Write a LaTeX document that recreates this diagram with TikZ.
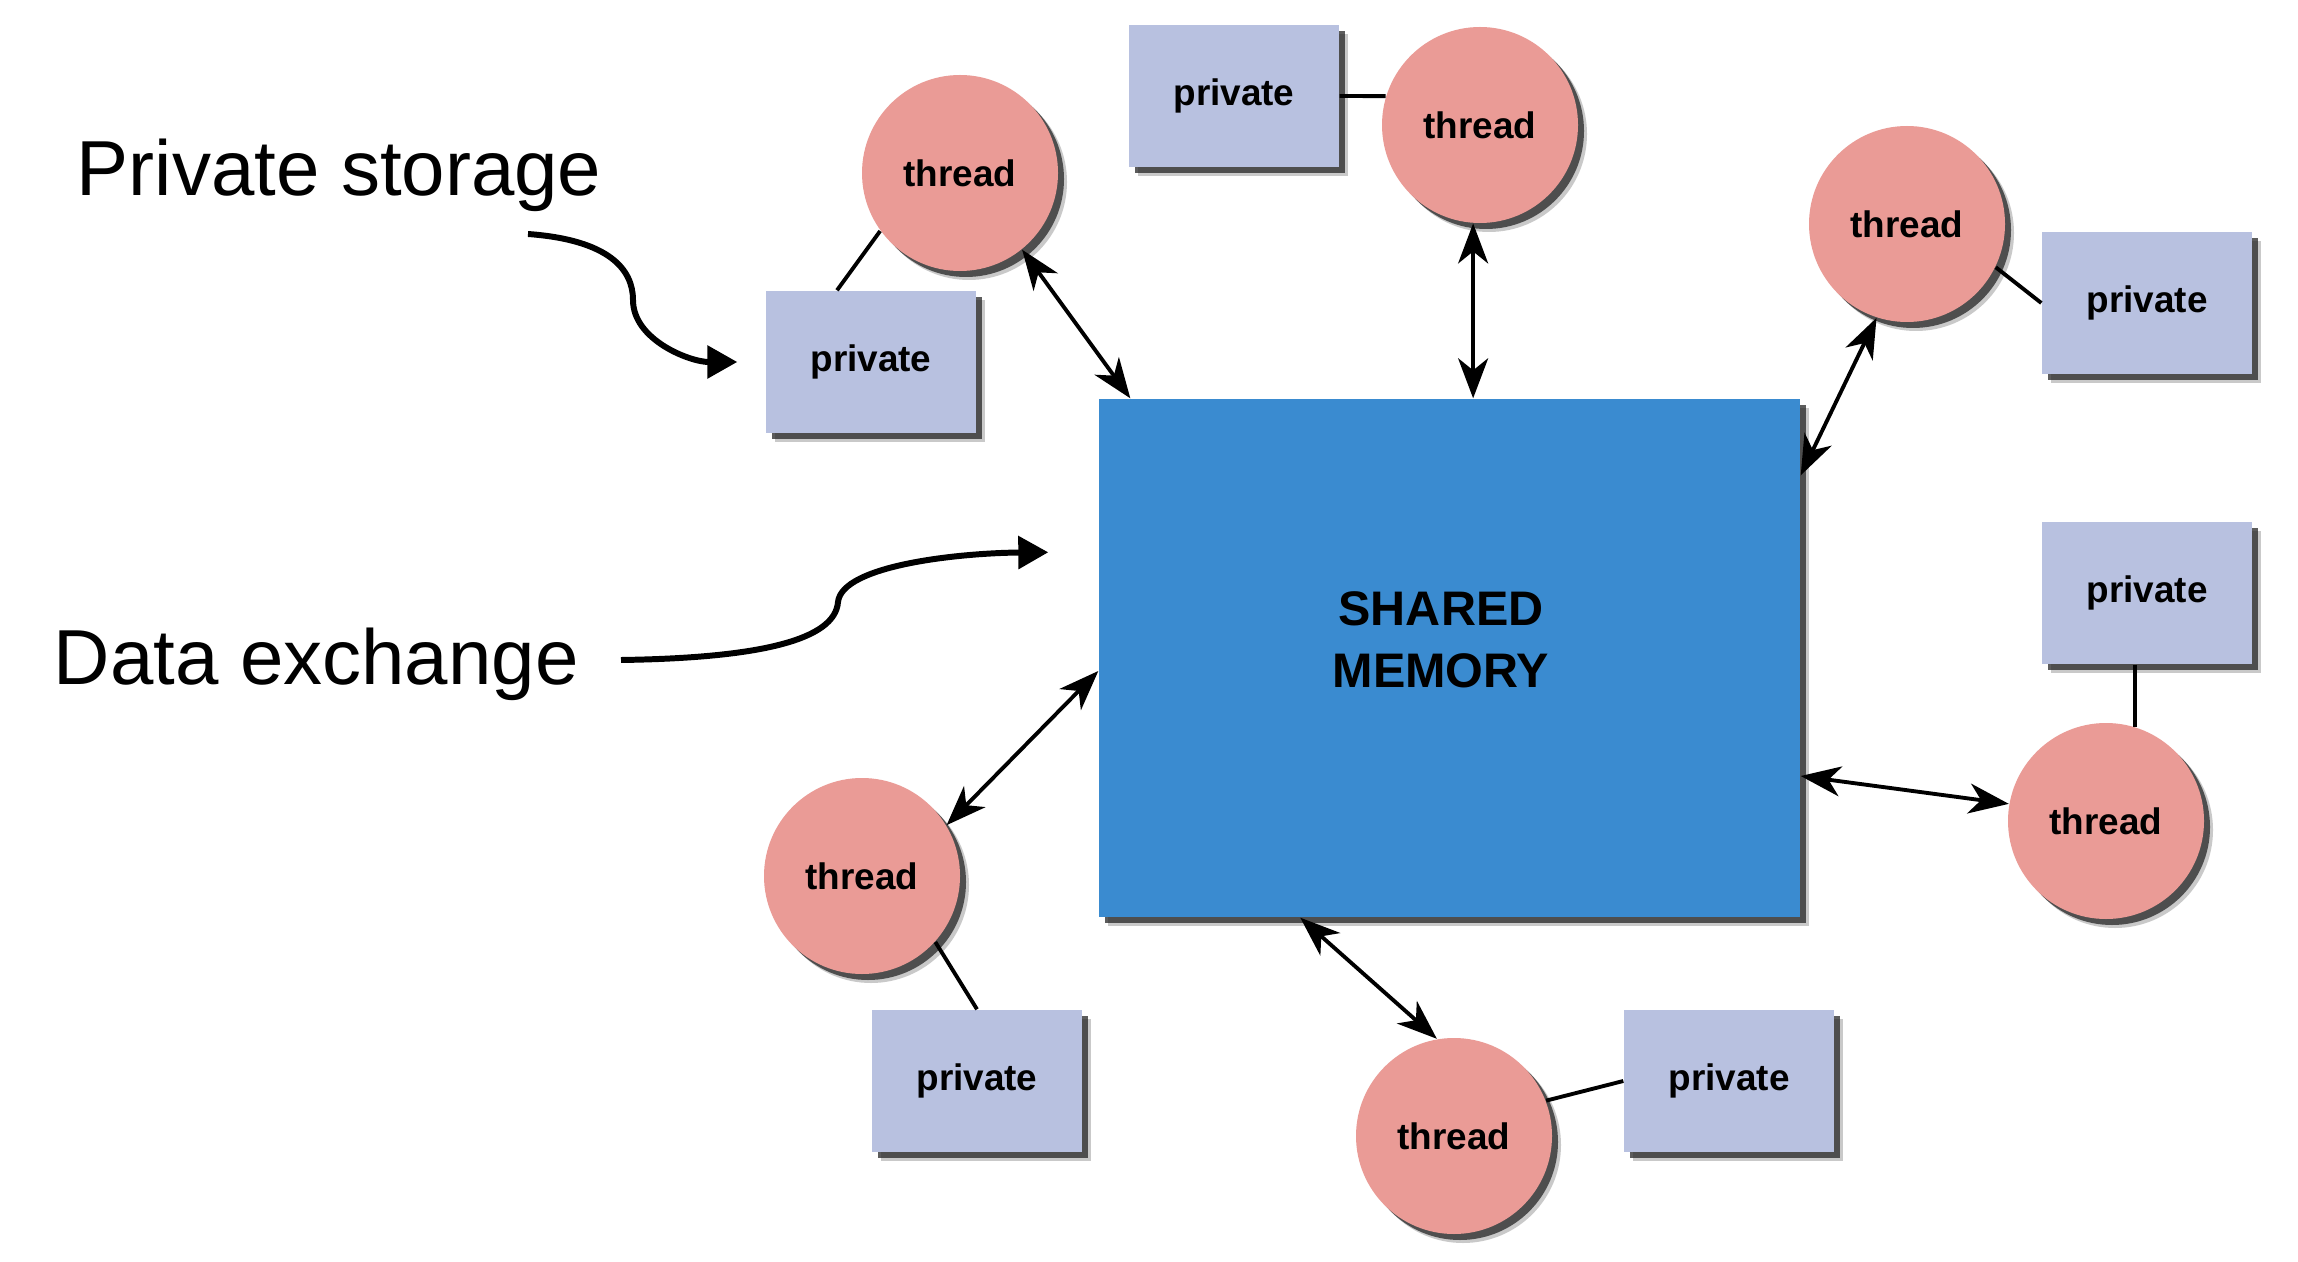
\documentclass[tikz,border=0pt]{standalone}
\usepackage{fontspec}
\setmainfont{Liberation Sans}
\usetikzlibrary{positioning,calc,arrows.meta,shadows}
\definecolor{memblue}{HTML}{3A8BD0}
\definecolor{threadred}{HTML}{EA9B96}
\definecolor{privblue}{HTML}{B8C1E0}

\begin{document}
\begin{tikzpicture}[
    boxshadow/.style={drop shadow={shadow xshift=0.09cm, shadow yshift=-0.09cm, fill=black!60, opacity=0.35},
        drop shadow={shadow xshift=0.06cm, shadow yshift=-0.06cm, fill=black!85, opacity=0.75}},
    thread/.style={circle, fill=threadred, minimum size=1.96cm, inner sep=0pt, boxshadow, font=\fontsize{10.5}{12}\selectfont\bfseries},
    private/.style={rectangle, fill=privblue, minimum width=2.1cm, minimum height=1.42cm, inner sep=0pt, boxshadow, font=\fontsize{10.5}{12}\selectfont\bfseries},
    memory/.style={rectangle, fill=memblue, minimum width=7.01cm, minimum height=5.18cm, inner sep=0pt, boxshadow},
    link/.style={line width=1.1pt},
    xchg/.style={line width=1.1pt, {Stealth[length=0.4cm,width=0.3cm,inset=0.12cm]}-{Stealth[length=0.4cm,width=0.3cm,inset=0.12cm]}},
    note/.style={line width=1.7pt, -{Triangle[length=0.3cm,width=0.32cm]}},
    notetext/.style={inner sep=0pt, anchor=base west, font=\fontsize{22.2}{26}\selectfont}
]
    \path[use as bounding box, fill=white] (0,0) rectangle (22.98,-12.62);

    \node[memory] (mem) at (14.495,-6.58) {};
    \node[font=\fontsize{13.8}{17.5}\selectfont\bfseries, align=center] (memtext) at (14.41,-6.40) {SHARED\\MEMORY};

    \node[thread] (t1) at (9.60,-1.73) {thread};
    \node[thread] (t2) at (14.80,-1.25) {thread};
    \node[thread] (t3) at (19.07,-2.24) {thread};
    \node[thread] (t4) at (21.06,-8.21) {thread};
    \node[thread] (t5) at (14.54,-11.36) {thread};
    \node[thread] (t6) at (8.62,-8.76) {thread};

    \node[private] (p1) at (8.71,-3.62) {private};
    \node[private] (p2) at (12.34,-0.96) {private};
    \node[private] (p3) at (21.47,-3.03) {private};
    \node[private] (p4) at (21.47,-5.93) {private};
    \node[private] (p5) at (9.77,-10.81) {private};
    \node[private] (p6) at (17.29,-10.81) {private};

    \draw[link] (t1.216) -- ([xshift=-0.34cm]p1.north);
    \draw[link] (p2.east) -- (t2.163);
    \draw[link] (t3.-26) -- (p3.west);
    \draw[link] (p4.south -| t4.73) -- (t4.73);
    \draw[link] (t6.-42) -- (p5.north);
    \draw[link] (t5.21) -- (p6.west);

    \draw[xchg] (t1.-51) -- ([xshift=0.32cm]mem.north west);
    \draw[xchg] (t2.266) -- (t2.266 |- mem.north);
    \draw[xchg] (t3.252) -- ([yshift=-0.77cm]mem.north east);
    \draw[xchg] ([yshift=-1.18cm]mem.east) -- (t4.170);
    \draw[xchg] ([xshift=2.02cm]mem.south west) -- (t5.100);
    \draw[xchg] ([yshift=-0.13cm]mem.west) -- (t6.31);

    \node[notetext] (privlbl) at (0.76,-1.96) {Private storage};
    \node[notetext] (datalbl) at (0.53,-6.84) {Data exchange};

    \coordinate (privstart) at (5.28,-2.34);
    \coordinate (datastart) at (6.21,-6.60);
    \draw[note] (privstart) .. controls (6.10,-2.40) and (6.33,-2.70) .. (6.33,-3.00)
        .. controls (6.33,-3.40) and (6.90,-3.62) .. ([xshift=-0.28cm]p1.west);
    \draw[note] (datastart) .. controls (7.60,-6.58) and (8.35,-6.40) .. (8.38,-6.02)
        .. controls (8.42,-5.65) and (9.60,-5.53) .. ([shift={(-0.50,-1.54)}]mem.north west);
\end{tikzpicture}
\end{document}
